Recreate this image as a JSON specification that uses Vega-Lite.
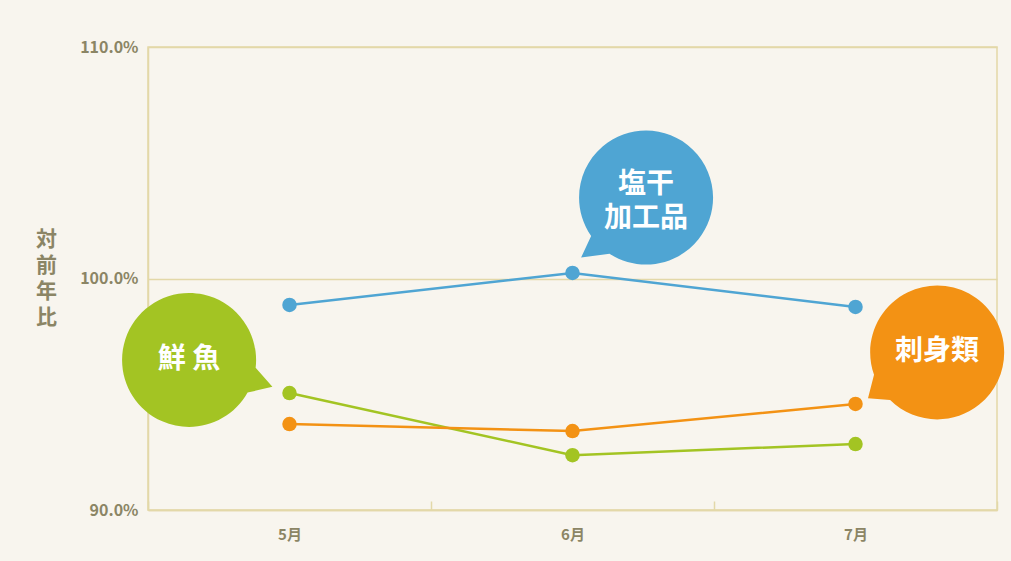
{
  "$schema": "https://vega.github.io/schema/vega-lite/v6.json",
  "width": 849,
  "height": 463,
  "autosize": {"type": "none"},
  "padding": {"left": 148, "top": 47, "right": 14, "bottom": 51},
  "background": "#f8f5ee",
  "config": {
    "view": {"stroke": "#e3d8a8", "strokeWidth": 1.5},
    "font": "Noto Sans CJK JP"
  },
  "datasets": {
    "lines": [
      {"month": "5月", "series": "塩干加工品", "value": 98.86},
      {"month": "6月", "series": "塩干加工品", "value": 100.24},
      {"month": "7月", "series": "塩干加工品", "value": 98.77},
      {"month": "5月", "series": "鮮魚", "value": 95.05},
      {"month": "6月", "series": "鮮魚", "value": 92.37},
      {"month": "7月", "series": "鮮魚", "value": 92.85},
      {"month": "5月", "series": "刺身類", "value": 93.71},
      {"month": "6月", "series": "刺身類", "value": 93.41},
      {"month": "7月", "series": "刺身類", "value": 94.58}
    ],
    "bubbles": [
      {"series": "鮮魚", "label": "鮮 魚", "pos": 0.145, "value": 96.46},
      {"series": "塩干加工品", "label": "塩干\n加工品", "pos": 1.76, "value": 103.5},
      {"series": "刺身類", "label": "刺身類", "pos": 2.788, "value": 96.82}
    ]
  },
  "layer": [
    {
      "data": {"name": "lines"},
      "encoding": {
        "x": {
          "field": "month",
          "type": "nominal",
          "sort": ["5月", "6月", "7月"],
          "scale": {"type": "band", "paddingInner": 0, "paddingOuter": 0},
          "axis": {
            "title": null,
            "labelAngle": 0,
            "tickBand": "extent",
            "tickSize": -9,
            "tickColor": "#e3d8a8",
            "tickWidth": 1.5,
            "domainColor": "#e3d8a8",
            "domainWidth": 1.5,
            "labelColor": "#8b8565",
            "labelFontSize": 15,
            "labelFontWeight": "bold",
            "labelPadding": 26,
            "grid": false
          }
        },
        "y": {
          "field": "value",
          "type": "quantitative",
          "scale": {"domain": [90, 110], "nice": false, "zero": false},
          "axis": {
            "values": [90, 100, 110],
            "labelExpr": "format(datum.value, '.1f') + '%'",
            "tickSize": 0,
            "labelPadding": 10,
            "labelColor": "#8b8565",
            "labelFontSize": 16,
            "labelFontWeight": "bold",
            "grid": true,
            "gridColor": "#e3d8a8",
            "gridWidth": 1.5,
            "domainColor": "#e3d8a8",
            "domainWidth": 1.5,
            "title": ["対", "前", "年", "比"],
            "titleAngle": 0,
            "titleX": -102,
            "titleY": 192,
            "titleAlign": "center",
            "titleBaseline": "middle",
            "titleFontSize": 21,
            "titleLineHeight": 26,
            "titleFontWeight": "bold",
            "titleColor": "#8b8565"
          }
        },
        "color": {
          "field": "series",
          "type": "nominal",
          "scale": {"domain": ["塩干加工品", "鮮魚", "刺身類"], "range": ["#4fa5d3", "#a3c423", "#f39214"]},
          "legend": null
        }
      },
      "layer": [
        {"mark": {"type": "line", "strokeWidth": 2.5}},
        {"mark": {"type": "point", "filled": true, "size": 210, "opacity": 1}}
      ]
    },
    {
      "data": {"name": "bubbles"},
      "encoding": {
        "x": {"field": "pos", "type": "quantitative", "scale": {"domain": [0, 3], "nice": false, "zero": false}, "axis": null},
        "y": {"field": "value", "type": "quantitative"}
      },
      "layer": [
        {
          "mark": {"type": "point", "filled": true, "opacity": 1, "size": 17956, "strokeWidth": 0},
          "encoding": {
            "color": {"field": "series", "type": "nominal", "legend": null},
            "shape": {
              "field": "series",
              "type": "nominal",
              "scale": {
                "domain": ["塩干加工品", "鮮魚", "刺身類"],
                "range": [
                  "M-0.545,0.84L-0.97,0.897L-0.82,0.574A1,1,0,1,1,-0.545,0.84Z",
                  "M0.994,0.11L1.244,0.393L0.874,0.48A1,1,0,1,1,0.994,0.11Z",
                  "M-0.7,0.716L-1.03,0.687L-0.94,0.338A1,1,0,1,1,-0.7,0.716Z"
                ]
              },
              "legend": null
            }
          }
        },
        {
          "transform": [{"filter": "datum.series !== '塩干加工品'"}],
          "mark": {"type": "text", "color": "#ffffff", "fontSize": 28, "fontWeight": "bold", "font": "Noto Sans CJK JP", "baseline": "middle", "align": "center"},
          "encoding": {"text": {"field": "label"}}
        },
        {
          "transform": [{"filter": "datum.series === '塩干加工品'"}],
          "mark": {"type": "text", "color": "#ffffff", "fontSize": 28, "fontWeight": "bold", "lineBreak": "\n", "lineHeight": 34, "font": "Noto Sans CJK JP", "baseline": "middle", "align": "center", "dy": -12},
          "encoding": {"text": {"field": "label"}}
        }
      ]
    }
  ],
  "resolve": {"scale": {"x": "independent"}}
}
